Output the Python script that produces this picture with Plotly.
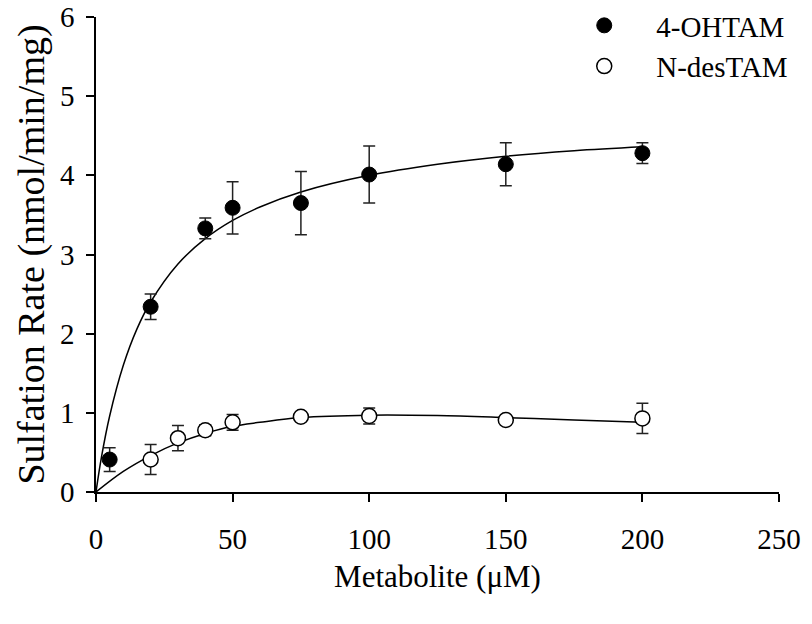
import plotly.graph_objects as go

# Sulfation kinetics of tamoxifen metabolites
family_font = 'Liberation Serif'

# measured points (mean +/- SD)
conc_oh = [5, 20, 40, 50, 75, 100, 150, 200]
rate_oh = [0.41, 2.34, 3.33, 3.59, 3.65, 4.01, 4.14, 4.28]
err_oh = [0.15, 0.16, 0.13, 0.33, 0.40, 0.36, 0.27, 0.13]

conc_des = [20, 30, 40, 50, 75, 100, 150, 200]
rate_des = [0.41, 0.68, 0.78, 0.88, 0.95, 0.96, 0.91, 0.93]
err_des = [0.19, 0.16, 0.07, 0.10, 0.03, 0.10, 0.03, 0.19]

# fitted curves
fit_x_oh = [0, 2, 5, 10, 15, 20, 30, 40, 50, 60, 75, 100, 125, 150, 175, 200]
fit_y_oh = [0, 0.44, 0.96, 1.60, 2.06, 2.40, 2.88, 3.20, 3.43, 3.60, 3.79, 4.00, 4.14, 4.24, 4.31, 4.36]

fit_x_des = [0, 10, 20, 30, 40, 50, 60, 75, 100, 125, 150, 175, 200]
fit_y_des = [0, 0.26, 0.46, 0.62, 0.74, 0.83, 0.88, 0.94, 0.97, 0.965, 0.94, 0.91, 0.88]

fig = go.Figure()

fig.add_trace(go.Scatter(x=fit_x_oh, y=fit_y_oh, mode='lines', line_shape='spline',
                         line=dict(color='black', width=1.5), showlegend=False, hoverinfo='skip'))
fig.add_trace(go.Scatter(x=fit_x_des, y=fit_y_des, mode='lines', line_shape='spline',
                         line=dict(color='black', width=1.5), showlegend=False, hoverinfo='skip'))

fig.add_trace(go.Scatter(x=conc_oh, y=rate_oh, mode='markers', name='4-OHTAM',
                         error_y=dict(type='data', array=err_oh, color='#222222', thickness=1.5, width=6),
                         marker=dict(symbol='circle', size=15, color='black',
                                     line=dict(color='black', width=1))))
fig.add_trace(go.Scatter(x=conc_des, y=rate_des, mode='markers', name='N-desTAM',
                         error_y=dict(type='data', array=err_des, color='#222222', thickness=1.5, width=6),
                         marker=dict(symbol='circle', size=15, color='white',
                                     line=dict(color='black', width=1.5))))

# top margin 0 and a shortened y domain, so the legend can sit at the very top
fig.update_layout(
    width=812, height=624,
    paper_bgcolor='white', plot_bgcolor='white',
    margin=dict(l=96, r=33, t=0, b=132),
    font=dict(family=family_font, color='black', size=29),
    legend=dict(x=0.668, y=1.0, xanchor='left', yanchor='top',
                font=dict(size=29), itemwidth=94, bgcolor='rgba(0,0,0,0)'),
)

fig.update_xaxes(range=[0, 250], tickvals=[0, 50, 100, 150, 200, 250],
                 showline=True, linecolor='black', linewidth=1.5, showgrid=False, zeroline=False,
                 ticks='outside', ticklen=8, tickwidth=1.5, tickcolor='black',
                 ticklabelstandoff=12, automargin=False, ticklabeloverflow='allow',
                 title=dict(text='Metabolite (μM)', font=dict(size=31), standoff=12))
fig.update_yaxes(range=[0, 6], tickvals=[0, 1, 2, 3, 4, 5, 6], domain=[0, 475 / 492],
                 showline=True, linecolor='black', linewidth=1.5, showgrid=False, zeroline=False,
                 ticks='outside', ticklen=8, tickwidth=1.5, tickcolor='black',
                 ticklabelstandoff=6, automargin=False, ticklabeloverflow='allow',
                 title=dict(text='Sulfation Rate (nmol/min/mg)', font=dict(size=38), standoff=4))

# drop the default page margin so the figure sits at the window origin
fig.write_html("out.html", config={'displayModeBar': False},
               post_script="document.body.style.margin='0';")
